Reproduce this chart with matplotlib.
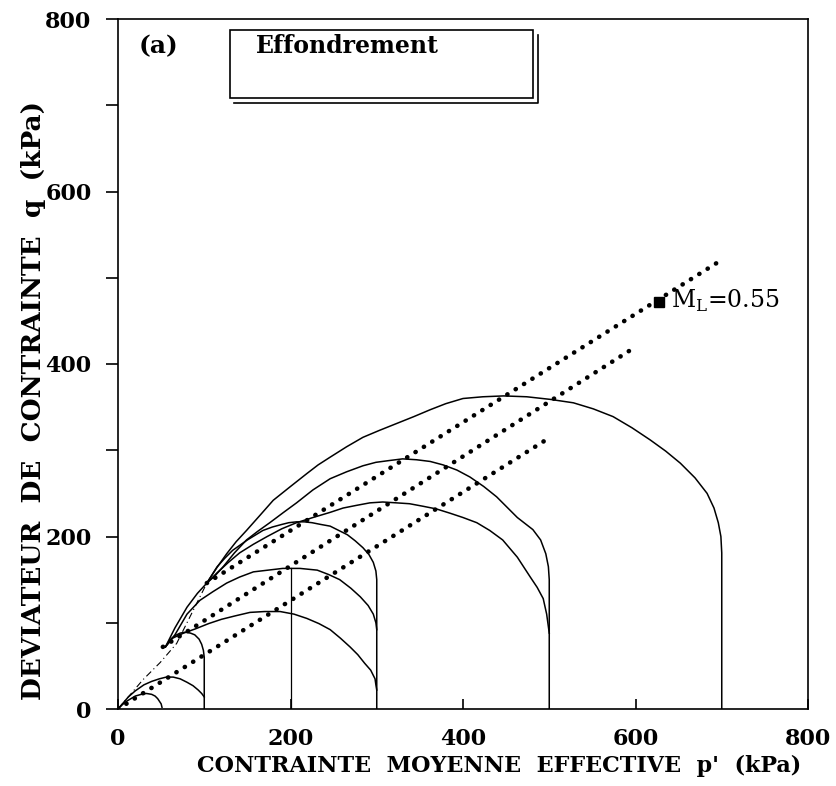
import matplotlib
matplotlib.use("Agg")
import matplotlib.pyplot as plt
from matplotlib.patches import Rectangle

# ---- data ----
# solid stress-path curves (p', q) in kPa
c700_p = [700, 700, 699, 696, 691, 683, 669, 652, 635, 617, 596, 574, 551, 528, 501, 474, 447, 423,
          400, 380, 362, 343, 323, 303, 284, 265, 246, 232, 219, 200, 180, 165, 149, 137, 126, 114, 103]
c700_q = [0, 181, 200, 216, 233, 250, 268, 285, 299, 312, 326, 339, 348, 355, 359, 362, 363, 362,
          360, 354, 347, 339, 331, 323, 315, 304, 292, 283, 273, 258, 242, 225, 207, 194, 180, 163, 146]

c500a_p = [500, 500, 499, 496, 490, 481, 463, 439, 424, 408, 393, 377, 362, 346, 330, 314, 299, 284,
           265, 246, 226, 207, 192, 176, 162, 149, 135, 122, 112, 103]
c500a_q = [0, 150, 165, 180, 196, 208, 222, 246, 258, 269, 277, 283, 287, 289, 290, 288, 286, 282,
           275, 267, 254, 239, 228, 216, 206, 196, 181, 165, 154, 146]

c500b_p = [500, 497, 493, 486, 478, 463, 446, 431, 416, 400, 385, 369, 354, 338, 323, 307, 292, 276,
           261, 246, 226, 207, 190, 173, 157, 141, 128, 115, 103, 92, 80, 66, 55]
c500b_q = [88, 110, 128, 141, 153, 176, 196, 207, 216, 222, 227, 232, 235, 238, 239, 240, 239, 236,
           233, 228, 222, 216, 209, 200, 191, 181, 170, 158, 146, 134, 118, 94, 72]

c300a_p = [300, 300, 299, 296, 291, 284, 275, 266, 256, 246, 235, 225, 216, 207, 198, 190, 179, 168,
           150, 133, 124, 115, 103]
c300a_q = [0, 150, 160, 170, 179, 187, 195, 202, 207, 212, 214, 216, 217, 217, 216, 214, 211, 207,
           196, 184, 175, 165, 146]

c300b_p = [300, 299, 296, 290, 281, 270, 257, 244, 231, 211, 191, 174, 157, 141, 126, 110, 95, 80, 66, 55]
c300b_q = [92, 100, 110, 120, 130, 140, 150, 156, 161, 163, 163, 161, 159, 153, 146, 136, 126, 110, 86, 72]

c300c_p = [300, 299, 298, 293, 286, 278, 269, 258, 246, 233, 219, 204, 188, 170, 153, 136, 120, 105,
           90, 76, 63, 55]
c300c_q = [22, 28, 35, 45, 53, 63, 72, 82, 92, 99, 105, 110, 113, 113, 112, 108, 104, 99,
           93, 88, 82, 72]

c100a_p = [100, 100, 99, 97, 94, 89, 84, 78, 72, 66, 60, 55]
c100a_q = [0, 60, 68, 75, 81, 86, 88, 89, 88, 85, 80, 72]

c100b_p = [0, 6, 12, 20, 30, 39, 48, 56, 64, 72, 80, 87, 93, 97, 100]
c100b_q = [0, 7, 14, 21, 28, 32, 35, 37, 37, 35, 31, 27, 22, 18, 14]

c50_p = [0, 5, 10, 15, 20, 27, 33, 39, 43, 46, 48, 50, 51]
c50_q = [0, 5, 9, 12, 15, 17, 18, 17, 15, 12, 9, 6, 2]

v200_p = [200, 200]
v200_q = [0, 163]

env_p = [0, 29, 49, 68, 103]
env_q = [0, 34, 54, 76, 146]

# dotted lines (start and end points)
d1_p = [103, 694]
d1_q = [146, 517]
d2_p = [52, 594]
d2_q = [72, 416]
d3_p = [0, 501]
d3_q = [0, 315]

ml_point = (627, 472)

xticks = [0, 200, 400, 600, 800]
yticks = [0, 200, 400, 600, 800]
yminor = [100, 300, 500, 700]

# ---- figure ----
plt.rcParams['font.family'] = ['DejaVu Serif']
fig = plt.figure(figsize=(8.36, 7.86), dpi=100)
ax = fig.add_axes([118/836, 1-709/786, 690/836, 690/786])

lw = 1.1
for px, qy in [(c700_p, c700_q), (c500a_p, c500a_q), (c500b_p, c500b_q),
               (c300a_p, c300a_q), (c300b_p, c300b_q), (c300c_p, c300c_q),
               (c100a_p, c100a_q), (c100b_p, c100b_q), (c50_p, c50_q)]:
    ax.plot(px, qy, color='black', lw=lw, solid_joinstyle='round')
ax.plot(v200_p, v200_q, color='black', lw=0.9)
ax.plot(env_p, env_q, color='black', lw=0.8, ls=(0, (6, 3, 1, 3)))

for px, qy in [(d1_p, d1_q), (d2_p, d2_q), (d3_p, d3_q)]:
    ax.plot(px, qy, color='black', lw=3.3, ls=(0, (0.05, 2.1)), dash_capstyle='round')

ax.plot([ml_point[0]], [ml_point[1]], marker='s', color='black', ms=7)
ax.text(ml_point[0] + 14, ml_point[1] + 1, r"M$_\mathregular{L}$=0.55", fontsize=17,
        va='center', ha='left')

ax.set_xlim(0, 800)
ax.set_ylim(0, 800)
ax.set_xticks(xticks)
ax.set_yticks(yticks)
ax.set_yticks(yminor, minor=True)
ax.tick_params(axis='x', direction='in', length=7, width=1.2, labelsize=16, pad=14)
ax.tick_params(axis='y', direction='out', length=9, width=1.2, labelsize=16, pad=10)
ax.tick_params(axis='y', which='minor', direction='out', length=9, width=1.2)
for lab in ax.get_xticklabels() + ax.get_yticklabels():
    lab.set_fontweight('bold')
for s in ax.spines.values():
    s.set_linewidth(1.2)

# title box with offset double edge
ax.add_patch(Rectangle((130, 708), 351, 79, facecolor='white', edgecolor='black', lw=1.2, zorder=4))
ax.plot([135, 487, 487], [703, 703, 782], color='black', lw=1.2, zorder=4)
ax.text(160, 761, "Effondrement", fontsize=17, fontweight='bold', va='baseline', ha='left', zorder=5)
ax.text(47, 769, "(a)", fontsize=18, fontweight='bold', va='center', ha='center')

fig.text(499/836, 1-766/786, "CONTRAINTE  MOYENNE  EFFECTIVE  p'  (kPa)", fontsize=16,
         fontweight='bold', ha='center', va='center')
fig.text(34/836, 1-400/786, "DEVIATEUR  DE  CONTRAINTE  q  (kPa)", fontsize=19,
         fontweight='bold', ha='center', va='center', rotation=90)

fig.savefig("out.png", dpi=100)
